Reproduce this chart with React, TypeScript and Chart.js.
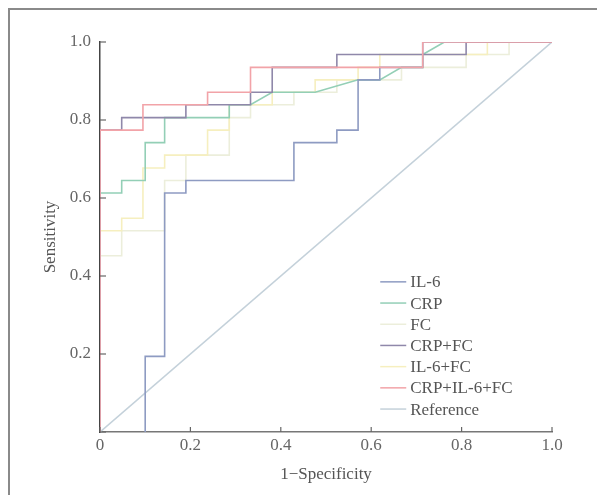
import React, { useEffect, useRef } from "react";
import { Chart, registerables } from "chart.js";

Chart.register(...registerables);

const seriesLabels = ["IL-6", "CRP", "FC", "CRP+FC", "IL-6+FC", "CRP+IL-6+FC", "Reference"];
const seriesColors = ["#8e9bc2", "#93cfb6", "#eceedb", "#8f88aa", "#f6efbf", "#f2a3a8", "#c4d1da"];
const seriesOrder = [2, 3, 5, 1, 4, 0, 6];

const il6X = [0.1, 0.1, 0.143, 0.143, 0.19, 0.19, 0.429, 0.429, 0.524, 0.524, 0.571, 0.571, 0.619, 0.619, 0.714, 0.714, 1];
const il6Y = [0, 0.194, 0.194, 0.613, 0.613, 0.645, 0.645, 0.742, 0.742, 0.774, 0.774, 0.903, 0.903, 0.935, 0.935, 1, 1];

const crpX = [0, 0, 0.048, 0.048, 0.1, 0.1, 0.143, 0.143, 0.286, 0.286, 0.333, 0.381, 0.476, 0.571, 0.619, 0.667, 0.714, 0.714, 0.762, 1];
const crpY = [0, 0.613, 0.613, 0.645, 0.645, 0.742, 0.742, 0.806, 0.806, 0.839, 0.839, 0.871, 0.871, 0.903, 0.903, 0.935, 0.935, 0.968, 1, 1];

const fcX = [0, 0, 0.048, 0.048, 0.143, 0.143, 0.19, 0.19, 0.286, 0.286, 0.333, 0.333, 0.429, 0.429, 0.524, 0.524, 0.667, 0.667, 0.81, 0.81, 0.905, 0.905, 1];
const fcY = [0, 0.452, 0.452, 0.516, 0.516, 0.645, 0.645, 0.71, 0.71, 0.806, 0.806, 0.839, 0.839, 0.871, 0.871, 0.903, 0.903, 0.935, 0.935, 0.968, 0.968, 1, 1];

const crpFcX = [0, 0, 0.048, 0.048, 0.19, 0.19, 0.333, 0.333, 0.381, 0.381, 0.524, 0.524, 0.81, 0.81, 1];
const crpFcY = [0, 0.774, 0.774, 0.806, 0.806, 0.839, 0.839, 0.871, 0.871, 0.935, 0.935, 0.968, 0.968, 1, 1];

const il6FcX = [0, 0, 0.048, 0.048, 0.095, 0.095, 0.143, 0.143, 0.238, 0.238, 0.286, 0.286, 0.381, 0.381, 0.476, 0.476, 0.571, 0.571, 0.619, 0.619, 0.857, 0.857, 1];
const il6FcY = [0, 0.516, 0.516, 0.548, 0.548, 0.677, 0.677, 0.71, 0.71, 0.774, 0.774, 0.839, 0.839, 0.871, 0.871, 0.903, 0.903, 0.935, 0.935, 0.968, 0.968, 1, 1];

const allX = [0, 0, 0.095, 0.095, 0.238, 0.238, 0.333, 0.333, 0.714, 0.714, 1];
const allY = [0, 0.774, 0.774, 0.839, 0.839, 0.871, 0.871, 0.935, 0.935, 1, 1];

const refX = [0, 1];
const refY = [0, 1];

const xTickLabels = ["0", "0.2", "0.4", "0.6", "0.8", "1.0"];
const yTickLabels = ["", "0.2", "0.4", "0.6", "0.8", "1.0"];

const seriesX = [il6X, crpX, fcX, crpFcX, il6FcX, allX, refX];
const seriesY = [il6Y, crpY, fcY, crpFcY, il6FcY, allY, refY];

const SERIF = '"Liberation Serif", "DejaVu Serif", serif';
const FONT_SIZE = 17;

const decorPlugin = {
  id: "decor",
  afterDraw(chart: any) {
    const { ctx, chartArea, scales } = chart;
    const xs = scales.x;
    const ys = scales.y;
    ctx.save();
    ctx.strokeStyle = "#666";
    ctx.lineWidth = 1.2;
    xs.ticks.forEach((t: any) => {
      const px = xs.getPixelForValue(t.value);
      ctx.beginPath();
      ctx.moveTo(px, chartArea.bottom);
      ctx.lineTo(px, chartArea.bottom - 5);
      ctx.stroke();
    });
    ys.ticks.forEach((t: any) => {
      const py = ys.getPixelForValue(t.value);
      ctx.beginPath();
      ctx.moveTo(chartArea.left, py);
      ctx.lineTo(chartArea.left + 6, py);
      ctx.stroke();
    });
    const lx = chartArea.left + (chartArea.right - chartArea.left) * 0.62;
    const ly0 = chartArea.top + (chartArea.bottom - chartArea.top) * 0.615;
    const step = 21.2;
    ctx.font = FONT_SIZE + "px " + SERIF;
    ctx.textBaseline = "middle";
    ctx.textAlign = "left";
    chart.data.datasets.forEach((ds: any, i: number) => {
      const y = ly0 + i * step;
      ctx.strokeStyle = ds.borderColor;
      ctx.lineWidth = 1.5;
      ctx.beginPath();
      ctx.moveTo(lx, y);
      ctx.lineTo(lx + 26, y);
      ctx.stroke();
      ctx.fillStyle = "#555";
      ctx.fillText(ds.label, lx + 30, y + 1);
    });
    ctx.restore();
  },
};

export default function App() {
  const ref = useRef<HTMLCanvasElement | null>(null);
  useEffect(() => {
    if (!ref.current) return;
    const datasets = seriesLabels.map((label, i) => ({
      label,
      data: seriesX[i].map((x, j) => ({ x, y: seriesY[i][j] })),
      borderColor: seriesColors[i],
      backgroundColor: seriesColors[i],
      borderWidth: 1.6,
      pointRadius: 0,
      tension: 0,
      fill: false,
      order: seriesOrder[i],
    }));
    const chart = new Chart(ref.current, {
      type: "line",
      data: { datasets },
      plugins: [decorPlugin],
      options: {
        responsive: false,
        animation: false,
        layout: { padding: { left: 34, top: 40, right: 55, bottom: 8 } },
        plugins: { legend: { display: false }, tooltip: { enabled: false } },
        scales: {
          x: {
            type: "linear",
            min: 0,
            max: 1,
            afterFit: (s: any) => { s.height = 57; },
            ticks: {
              stepSize: 0.2,
              padding: 3,
              color: "#666",
              font: { family: SERIF, size: FONT_SIZE },
              maxRotation: 0,
              callback: (_v: any, i: number) => xTickLabels[i],
            },
            grid: { display: false, drawTicks: false },
            border: { display: true, color: "#777", width: 1.5 },
            title: { display: true, text: "1−Specificity", color: "#555", font: { family: SERIF, size: FONT_SIZE } },
          },
          y: {
            type: "linear",
            min: 0,
            max: 1,
            afterFit: (s: any) => { s.width = 64; },
            ticks: {
              stepSize: 0.2,
              padding: 9,
              color: "#666",
              font: { family: SERIF, size: FONT_SIZE },
              callback: (_v: any, i: number) => yTickLabels[i],
            },
            grid: { display: false, drawTicks: false },
            border: { display: true, color: "#444", width: 1.5 },
            title: { display: true, text: "Sensitivity", color: "#555", font: { family: SERIF, size: FONT_SIZE } },
          },
        },
      } as any,
    });
    return () => chart.destroy();
  }, []);
  return (
    <div
      style={{
        position: "relative",
        width: 597,
        height: 487,
        boxSizing: "border-box",
        borderLeft: "2px solid #8a8a8a",
        borderTop: "2px solid #8a8a8a",
      }}
    >
      <canvas
        ref={ref}
        width={605}
        height={495}
        style={{ position: "absolute", left: -8, top: -8, width: 605, height: 495 }}
      />
    </div>
  );
}
